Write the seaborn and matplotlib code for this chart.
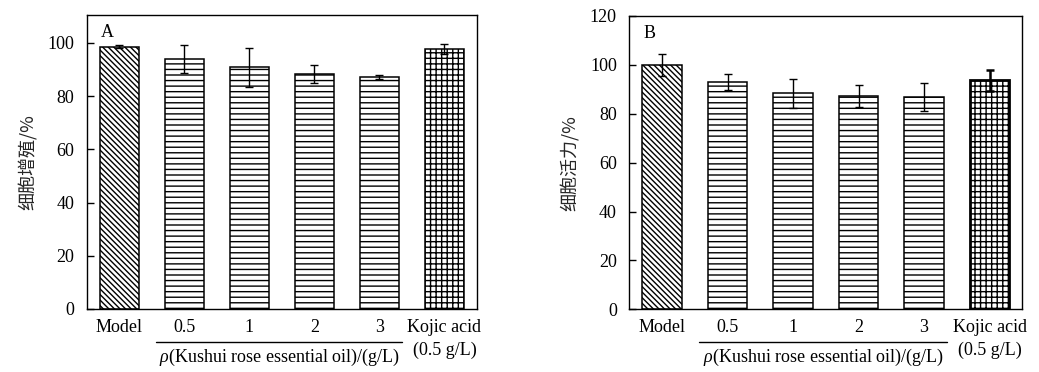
import pandas as pd
import numpy as np
import matplotlib
matplotlib.use('Agg')
import matplotlib.pyplot as plt
import seaborn as sns

# data
groups = ['Model', '0.5', '1', '2', '3', 'Kojic acid\n(0.5 g/L)']
prolif_mean = [98.6, 93.9, 90.8, 88.2, 87.1, 97.6]
prolif_sd = [0.6, 5.2, 7.3, 3.4, 0.7, 1.9]
viab_mean = [99.8, 93.0, 88.3, 87.2, 86.8, 93.8]
viab_sd = [4.5, 3.1, 6.0, 4.6, 5.7, 4.3]
hatches = ['\\' * 6, '---', '---', '---', '---', '+++']

sns.set_theme(style='white')
plt.rcParams['font.family'] = ['Liberation Serif', 'Noto Sans CJK SC']
plt.rcParams['mathtext.fontset'] = 'custom'
plt.rcParams['mathtext.it'] = 'Liberation Serif:italic'
plt.rcParams['mathtext.rm'] = 'Liberation Serif'
plt.rcParams['hatch.linewidth'] = 1.0
plt.rcParams['hatch.color'] = 'black'

fig = plt.figure(figsize=(10.39, 3.72), dpi=100)
ax1 = fig.add_axes([0.0837, 0.1694, 0.3753, 0.7903])
ax2 = fig.add_axes([0.6057, 0.1685, 0.3783, 0.7885])

panels = [
    (ax1, prolif_mean, prolif_sd, '细胞增殖/%', 'A', 110.5, [0, 20, 40, 60, 80, 100]),
    (ax2, viab_mean, viab_sd, '细胞活力/%', 'B', 120, [0, 20, 40, 60, 80, 100, 120]),
]

for ax, means, sds, ylab, letter, ytop, yticks in panels:
    df = pd.DataFrame({'group': groups, 'value': means})
    sns.barplot(data=df, x='group', y='value', color='white', width=0.6,
                edgecolor='black', linewidth=1.1, errorbar=None, ax=ax)
    for i, bar in enumerate(ax.patches):
        bar.set_facecolor('white')
        bar.set_hatch(hatches[i])
        if letter == 'B' and i == 5:
            bar.set_linewidth(2.0)
    for i in range(6):
        elw = 1.8 if (letter == 'B' and i == 5) else 1.0
        ax.errorbar(i, means[i], yerr=sds[i], fmt='none', ecolor='black',
                    elinewidth=elw, capsize=3, capthick=elw, zorder=5)

    ax.set_xlim(-0.5, 5.5)
    ax.set_ylim(0, ytop)
    ax.set_yticks(yticks)
    ax.set_xlabel('')
    ax.set_ylabel(ylab, fontsize=13, family=['Noto Sans CJK SC'], labelpad=7)
    for s in ax.spines.values():
        s.set_color('black')
        s.set_linewidth(1.0)
    ax.tick_params(axis='y', direction='in', length=5, width=1, pad=9,
                   labelsize=13, colors='black', left=True)
    ax.tick_params(axis='x', length=0, pad=7, labelsize=13, colors='black')
    for t in ax.get_xticklabels():
        t.set_linespacing(1.45)
    ax.text(0.035, 0.94, letter, transform=ax.transAxes, fontsize=13,
            va='center', ha='left', color='black')

    # bracket line under the essential oil concentrations
    trans = ax.get_xaxis_transform()
    ax.plot([0.56, 4.35], [-0.112, -0.112], color='black', lw=1.0,
            transform=trans, clip_on=False)
    ax.text(2.455, -0.165, r'$\it{\rho}$(Kushui rose essential oil)/(g/L)',
            transform=trans, ha='center', va='center', fontsize=13,
            color='black')

fig.savefig('out.png', dpi=100)
